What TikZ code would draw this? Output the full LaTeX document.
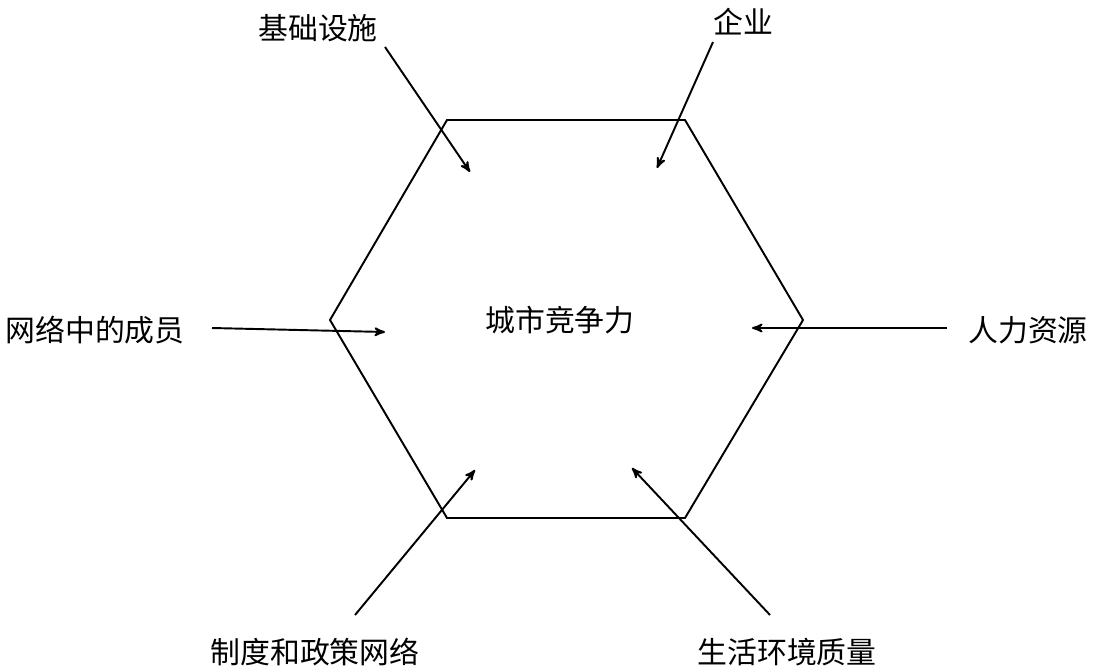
\documentclass[tikz,border=0pt]{standalone}
\usepackage{fontspec}
\setmainfont{Noto Sans CJK SC}
\usetikzlibrary{arrows}

\begin{document}
\begin{tikzpicture}[x=0.02cm,y=-0.02cm,>=stealth',
        lbl/.style={font=\fontsize{17}{20}\selectfont,inner sep=0pt},
        factor/.style={->,line width=1.1pt,shorten >=0pt}]

  \useasboundingbox (0,0) rectangle (1094,669);

  \draw[line width=1.1pt] (447,120) -- (685,120) -- (803,320) -- (685,518)
        -- (447,518) -- (330,320) -- cycle;

  \node[lbl] (core) at (560,320) {城市竞争力};

  \node[lbl] (infra) at (318,28) {基础设施};
  \node[lbl] (firm) at (743,22) {企业};
  \node[lbl] (member) at (95,330) {网络中的成员};
  \node[lbl] (human) at (1028,330) {人力资源};
  \node[lbl] (policy) at (315,652) {制度和政策网络};
  \node[lbl] (life) at (787,652) {生活环境质量};

  \coordinate (infra_s) at (385,47);  \coordinate (infra_e) at (470,172);
  \coordinate (firm_s) at (713,42);   \coordinate (firm_e) at (657,168);
  \coordinate (member_s) at (212,328); \coordinate (member_e) at (385,332);
  \coordinate (human_s) at (947,328); \coordinate (human_e) at (752,328);
  \coordinate (policy_s) at (355,615); \coordinate (policy_e) at (475,470);
  \coordinate (life_s) at (770,615);  \coordinate (life_e) at (632,468);

  \foreach \f in {infra,firm,member,human,policy,life}
    \draw[factor] (\f_s) -- (\f_e);

\end{tikzpicture}
\end{document}
